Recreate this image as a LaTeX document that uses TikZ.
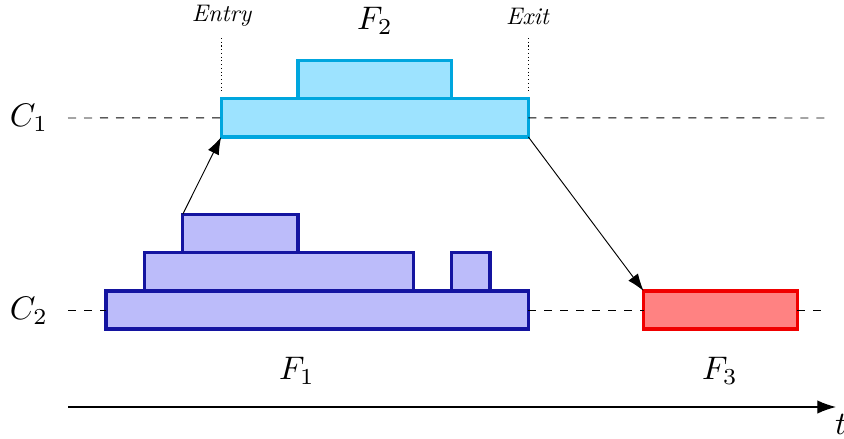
\documentclass[tikz,border=0pt]{standalone}
\usetikzlibrary{arrows.meta,fit}
\definecolor{ctwofill}{RGB}{157,227,255}
\definecolor{ctwodraw}{RGB}{0,166,222}
\definecolor{conefill}{RGB}{188,188,250}
\definecolor{conedraw}{RGB}{20,20,160}
\definecolor{cthreefill}{RGB}{255,130,130}
\definecolor{cthreedraw}{RGB}{240,0,0}
\tikzset{
  fbox/.style={rectangle, inner sep=0pt, outer sep=0pt, line width=2.3pt},
  ftwo/.style={fbox, draw=ctwodraw, fill=ctwofill},
  fone/.style={fbox, draw=conedraw, fill=conefill},
  fthree/.style={fbox, draw=cthreedraw, fill=cthreefill},
  guide/.style={dash pattern=on 6pt off 6pt, line width=0.7pt},
  marker/.style={dotted, line width=0.8pt},
  link/.style={line width=0.7pt, -{Latex[length=13pt,width=9pt]}},
  biglbl/.style={scale=2.45, inner sep=0pt},
  smalllbl/.style={scale=1.8, inner sep=0pt}
}
\begin{document}
\begin{tikzpicture}[x=0.75pt,y=-0.75pt]
\useasboundingbox (0,0) rectangle (844,439);
% boxes F1
\node[fone, fit={(106,291) (528.4,329)}] (f1a) {};
\node[fone, fit={(144.4,252.6) (413.2,291)}] (f1b) {};
\node[fone, fit={(182.8,214.2) (298,252.6)}] (f1c) {};
\node[fone, fit={(451.6,252.6) (490,291)}] (f1d) {};
% F2
\node[ftwo, fit={(221.2,98.6) (528.4,137)}] (f2a) {};
\node[ftwo, fit={(298,60.2) (451.6,98.6)}] (f2b) {};
% F3
\node[fthree, fit={(643.6,291) (797.2,329)}] (f3) {};
% labels
\node[biglbl] (c1) at (29,118) {$C_1$};
\node[biglbl] (c2) at (29,311) {$C_2$};
\node[biglbl] (lf2) at (375,21) {$F_2$};
\node[biglbl] (lf1) at (297,371) {$F_1$};
\node[biglbl] (lf3) at (720,371) {$F_3$};
\node[smalllbl] (entry) at (222,16) {\textit{Entry}};
\node[smalllbl] (exit) at (528,16) {\textit{Exit}};
\node[biglbl] (tl) at (841,424) {$t$};
% guide lines
\coordinate (c1s) at (68,118);
\coordinate (c1e) at (830,118);
\coordinate (c2s) at (68,310);
\coordinate (c2e) at (826,310);
\draw[guide] (c1s) -- (f2a.west);
\draw[guide] (f2a.east) -- (c1e);
\draw[guide] (c2s) -- (f1a.west);
\draw[guide] (f1a.east) -- (f3.west);
\draw[guide] (f3.east) -- (c2e);
% entry/exit markers
\coordinate (en1) at (221.2,38);
\coordinate (en2) at (221.2,93);
\coordinate (ex1) at (528.4,38);
\coordinate (ex2) at (528.4,93);
\draw[marker] (en1) -- (en2);
\draw[marker] (ex1) -- (ex2);
% arrows
\draw[link] (f1c.north west) -- (f2a.south west);
\draw[link] (f2a.south east) -- (f3.north west);
% time axis
\coordinate (ts) at (68,407);
\coordinate (te) at (836,407);
\draw[line width=0.9pt, -{Latex[length=14pt,width=10pt]}] (ts) -- (te);
\end{tikzpicture}
\end{document}
